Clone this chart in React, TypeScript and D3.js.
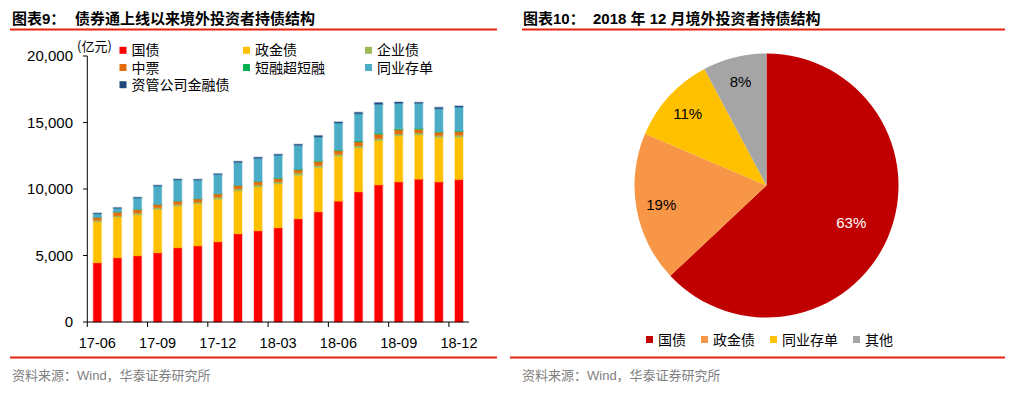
import * as d3 from "d3";

const months = [
  "17-06", "17-07", "17-08", "17-09", "17-10", "17-11", "17-12",
  "18-01", "18-02", "18-03", "18-04", "18-05", "18-06",
  "18-07", "18-08", "18-09", "18-10", "18-11", "18-12",
];
const govBond = [4452, 4828, 4978, 5203, 5579, 5729, 6029, 6630, 6855, 7080, 7756, 8281, 9085, 9784, 10309, 10534, 10736, 10534, 10711];
const policyBond = [3079, 3055, 3078, 3258, 3130, 3153, 3206, 3228, 3303, 3303, 3280, 3334, 3378, 3304, 3331, 3454, 3327, 3329, 3178];
const corpBond = [100, 100, 125, 125, 125, 125, 150, 150, 150, 150, 175, 150, 150, 150, 150, 150, 150, 150, 150];
const mtn = [225, 275, 275, 250, 250, 250, 250, 250, 250, 250, 225, 300, 275, 300, 325, 325, 275, 250, 275];
const shortBill = [15, 15, 15, 15, 15, 15, 15, 20, 25, 50, 50, 75, 50, 75, 75, 75, 75, 50, 50];
const ncd = [275, 275, 850, 1376, 1600, 1400, 1450, 1725, 1725, 1700, 1800, 1775, 2027, 2050, 2177, 1900, 1877, 1725, 1800];
const assetMgmt = [50, 50, 50, 50, 50, 50, 50, 75, 75, 75, 75, 100, 75, 100, 125, 100, 75, 100, 75];

const seriesNames = ["国债", "政金债", "企业债", "中票", "短融超短融", "同业存单", "资管公司金融债"];
const seriesColors = ["#FF0000", "#FFC000", "#9BBB59", "#E46C0A", "#00B050", "#4BACC6", "#1F497D"];
const yTicks = [0, 5000, 10000, 15000, 20000];
const xLabelMonths = ["17-06", "17-09", "17-12", "18-03", "18-06", "18-09", "18-12"];

const pieNames = ["国债", "政金债", "同业存单", "其他"];
const pieValues = [63.0, 18.4, 10.8, 7.8];
const pieLabels = ["63%", "19%", "11%", "8%"];
const pieColors = ["#C00000", "#F79646", "#FFC000", "#A5A5A5"];

const RED = "#E5230F";
const CJK = "'Noto Sans CJK SC', sans-serif";
const LAT = "'Liberation Sans', 'Noto Sans CJK SC', sans-serif";

export default function App() {
  // left: stacked bars
  const table = months.map((m, i) => ({
    m,
    s0: govBond[i], s1: policyBond[i], s2: corpBond[i], s3: mtn[i],
    s4: shortBill[i], s5: ncd[i], s6: assetMgmt[i],
  }));
  const keys = ["s0", "s1", "s2", "s3", "s4", "s5", "s6"];
  const stacked = d3.stack<any>().keys(keys)(table);

  const x = d3.scaleBand().domain(months).range([87.3, 469]).paddingInner(0.6).paddingOuter(0.3);
  const y = d3.scaleLinear().domain([0, 20000]).range([322, 56]);
  const step = x.step();
  const fmt = d3.format(",");

  // right: pie
  const cx = 766.5, cy = 185.5, r = 132;
  const arcs = d3.pie<number>().sort(null)(pieValues);
  const arcGen = d3.arc<d3.PieArcDatum<number>>().innerRadius(0).outerRadius(r);

  let lx = 646;
  const pieLegend = pieNames.map((name, i) => {
    const item = { name, x: lx, color: pieColors[i] };
    lx += 12 + name.length * 14 + 15;
    return item;
  });

  return (
    <svg width={1013} height={394} style={{ position: "absolute", left: 0, top: 0, background: "#fff" }}>
      {/* headers */}
      <text x={12} y={24} fontFamily={LAT} fontWeight="bold" fontSize={15}>图表9：</text>
      <text x={75} y={24} fontFamily={CJK} fontWeight="bold" fontSize={15}>债券通上线以来境外投资者持债结构</text>
      <line x1={10} x2={497} y1={29.5} y2={29.5} stroke={RED} strokeWidth={2} />
      <text x={523} y={24} fontFamily={LAT} fontWeight="bold" fontSize={15}>图表10：</text>
      <text x={593} y={24} fontFamily={LAT} fontWeight="bold" fontSize={15}>2018 年 12 月境外投资者持债结构</text>
      <line x1={522} x2={1005} y1={29.5} y2={29.5} stroke={RED} strokeWidth={2} />

      {/* bars */}
      {stacked.map((layer, li) => (
        <g key={li} fill={seriesColors[li]} stroke={seriesColors[li]} strokeOpacity={0.3} strokeWidth={1.5}>
          {layer.map((d, i) => (
            <rect key={i} x={x(months[i])!} width={x.bandwidth()} y={y(d[1])} height={Math.max(0, y(d[0]) - y(d[1]))} />
          ))}
        </g>
      ))}

      {/* y axis */}
      <line x1={87.3} x2={87.3} y1={y(20000)} y2={y(0)} stroke="#000" />
      {yTicks.map((t) => (
        <g key={t}>
          <line x1={83} x2={87.3} y1={y(t)} y2={y(t)} stroke="#000" />
          <text x={73} y={y(t) + 5} textAnchor="end" fontFamily={LAT} fontSize={15}>{fmt(t)}</text>
        </g>
      ))}
      <text x={77} y={51} fontFamily={CJK} fontSize={13}>(亿元)</text>

      {/* x axis */}
      <line x1={87.3} x2={469} y1={y(0)} y2={y(0)} stroke="#000" />
      {xLabelMonths.map((m) => {
        const c = x(m)! + x.bandwidth() / 2;
        return (
          <g key={m}>
            <line x1={c - step / 2} x2={c - step / 2} y1={y(0)} y2={y(0) + 5} stroke="#000" />
            <text x={c} y={348} textAnchor="middle" fontFamily={LAT} fontSize={14.5}>{m}</text>
          </g>
        );
      })}

      {/* bar legend */}
      {seriesNames.map((name, i) => {
        const col = i % 3, row = Math.floor(i / 3);
        const sx = [119.5, 243, 365][col];
        const sy = 50.3 + row * 17.2;
        return (
          <g key={name}>
            <rect x={sx} y={sy - 3.5} width={7} height={7} fill={seriesColors[i]} />
            <text x={sx + 12} y={sy + 5} fontFamily={CJK} fontSize={14}>{name}</text>
          </g>
        );
      })}

      {/* pie */}
      <g transform={`translate(${cx},${cy})`}>
        {arcs.map((a, i) => (
          <path key={i} d={arcGen(a)!} fill={pieColors[i]} />
        ))}
        {arcs.map((a, i) => {
          const mid = (a.startAngle + a.endAngle) / 2;
          const lr = a.value > 50 ? r * 0.7 : r * 0.81;
          return (
            <text key={i} x={Math.sin(mid) * lr} y={-Math.cos(mid) * lr + 5.5} textAnchor="middle"
              fontFamily={LAT} fontSize={15} fill={a.value > 50 ? "#fff" : "#000"}>
              {pieLabels[i]}
            </text>
          );
        })}
      </g>

      {/* pie legend */}
      {pieLegend.map((it) => (
        <g key={it.name}>
          <rect x={it.x} y={336} width={7} height={7} fill={it.color} />
          <text x={it.x + 12} y={345} fontFamily={CJK} fontSize={14}>{it.name}</text>
        </g>
      ))}

      {/* footers */}
      <line x1={10} x2={497} y1={357.5} y2={357.5} stroke={RED} strokeWidth={2} />
      <text x={12} y={380} fontFamily={LAT} fontSize={13} fill="#808080">资料来源：Wind，华泰证券研究所</text>
      <line x1={510} x2={1005} y1={357.5} y2={357.5} stroke={RED} strokeWidth={2} />
      <text x={522} y={380} fontFamily={LAT} fontSize={13} fill="#808080">资料来源：Wind，华泰证券研究所</text>
    </svg>
  );
}
